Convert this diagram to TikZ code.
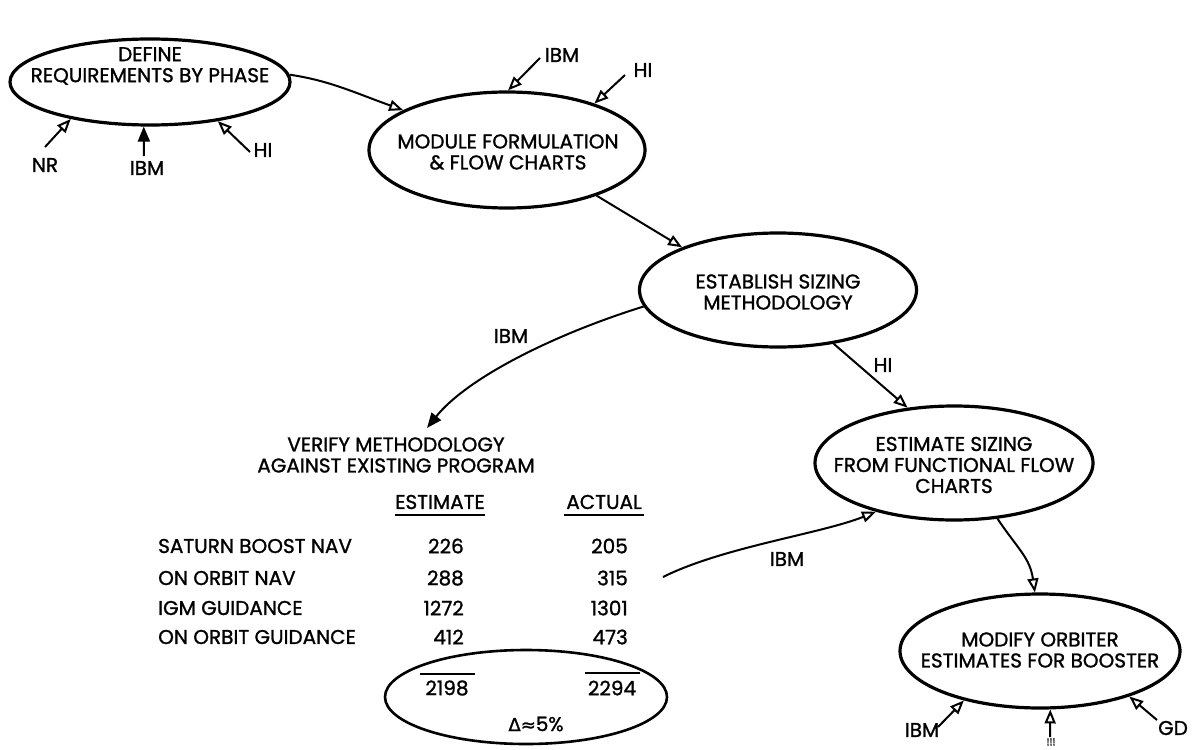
\documentclass[tikz,border=0pt]{standalone}
\usepackage{fontspec}
\setmainfont{Poppins}[BoldFont=Poppins, BoldFeatures={FakeBold=1.2}]
\newfontfamily\symf{DejaVu Sans}[BoldFont=DejaVu Sans, BoldFeatures={FakeBold=1.2}]
\usetikzlibrary{shapes.geometric,arrows.meta}
\begin{document}
\begin{tikzpicture}[x=1pt,y=-1pt,
  bub/.style={draw, line width=3.2pt, ellipse, inner sep=0pt},
  txt/.style={align=center, font=\fontsize{20}{21}\selectfont\bfseries, inner sep=0pt},
  conn/.style={line width=2pt, -{Triangle[open, length=14pt, width=11pt, line width=2pt]}},
  connf/.style={line width=2pt, -{Triangle[length=15pt, width=12pt]}},
  ]
\fill[white] (0,0) rectangle (1193,749);
\useasboundingbox (0,0) rectangle (1193,749);

% bubbles
\node[bub, minimum width=280pt, minimum height=86pt] (def) at (150,82) {};
\node[txt] (deft) at (150,66) {DEFINE\\REQUIREMENTS BY PHASE};
\node[bub, minimum width=276pt, minimum height=116pt] (mod) at (507,150) {};
\node[txt] (modt) at (508,152) {MODULE FORMULATION\\\& FLOW CHARTS};
\node[bub, minimum width=277pt, minimum height=114pt] (est) at (778,290) {};
\node[txt] (estt) at (778,292) {ESTABLISH SIZING\\METHODOLOGY};
\node[bub, minimum width=278pt, minimum height=114pt] (esz) at (954,463) {};
\node[txt] (eszt) at (954,465) {ESTIMATE SIZING\\FROM FUNCTIONAL FLOW\\CHARTS};
\node[bub, minimum width=280pt, minimum height=114pt] (mdf) at (1040,651) {};
\node[txt] (mdft) at (1040,650) {MODIFY ORBITER\\ESTIMATES FOR BOOSTER};

% verify block
\node[txt] (ver) at (396,455) {VERIFY METHODOLOGY\\AGAINST EXISTING PROGRAM};
\node[txt] (hest) at (440,502) {ESTIMATE};
\node[txt] (hact) at (604,502) {ACTUAL};
\draw[line width=1.8pt] ([yshift=-6pt]hest.south west) -- ([yshift=-6pt]hest.south east);
\draw[line width=1.8pt] ([yshift=-6pt,xshift=-2pt]hact.south west) -- ([yshift=-6pt,xshift=2pt]hact.south east);

\node[txt, anchor=west] (r1) at (158,546) {SATURN BOOST NAV};
\node[txt, anchor=west] (r2) at (158,578) {ON ORBIT NAV};
\node[txt, anchor=west] (r3) at (158,608) {IGM GUIDANCE};
\node[txt, anchor=west] (r4) at (158,637) {ON ORBIT GUIDANCE};
\node[txt, anchor=east] (e1) at (464,546) {226};
\node[txt, anchor=east] (e2) at (464,578) {288};
\node[txt, anchor=east] (e3) at (464,608) {1272};
\node[txt, anchor=east] (e4) at (464,637) {412};
\node[txt, anchor=east] (a1) at (628,546) {205};
\node[txt, anchor=east] (a2) at (628,578) {315};
\node[txt, anchor=east] (a3) at (628,608) {1301};
\node[txt, anchor=east] (a4) at (628,637) {473};

\node[bub, line width=2.6pt, minimum width=282pt, minimum height=94pt] (tot) at (526,697) {};
\node[txt] (te) at (447,688) {2198};
\node[txt] (ta) at (612,688) {2294};
\draw[line width=1.8pt] (420,674) -- (475,674);
\draw[line width=1.8pt] (585,673) -- (640,673);
\node[txt] (dlt) at (536,724) {{\symf\fontsize{18}{18}\selectfont\bfseries Δ≈}5\%};

% main connectors
\draw[conn] (def.3) .. controls +(40,6) and +(-50,-18) .. (mod.159);
\draw[conn] (mod.-27) -- (est.156);
\coordinate (vtip) at (427,428);
\draw[connf] (est.187) .. controls +(-90,28) and +(40,-50) .. (vtip);
\node[txt] (lbm1) at (511,336) {IBM};
\draw[conn] (est.-44) -- (esz.130);
\node[txt] (lhi1) at (883,365) {HI};
\coordinate (tabout) at (663,577);
\draw[conn] (tabout) .. controls +(60,-30) and +(-55,22) .. (esz.-148);
\node[txt] (lbm2) at (787,559) {IBM};
\draw[conn] (esz.-52) .. controls +(20,30) and +(-5,-35) .. (mdf.95);

% input arrows DEFINE
\coordinate (nrs) at (45,147);
\draw[conn] (nrs) -- (def.-155);
\node[txt] (lnr) at (45,165) {NR};
\coordinate (ib1s) at (144,156);
\draw[connf] (ib1s) -- (def.-98);
\node[txt] (lib1) at (147,168) {IBM};
\coordinate (hi1s) at (250,152);
\draw[conn] (hi1s) -- (def.-30);
\node[txt] (lhi2) at (263,150) {HI};

% input arrows MODULE
\coordinate (ib2s) at (540,58);
\draw[conn] (ib2s) -- (mod.89);
\node[txt] (lib2) at (562,55) {IBM};
\coordinate (hi2s) at (625,75);
\draw[conn] (hi2s) -- (mod.28);
\node[txt] (lhi3) at (643,70) {HI};

% input arrows MODIFY
\coordinate (ib3s) at (938,727);
\draw[conn] (ib3s) -- (mdf.-147);
\node[txt] (lib3) at (922,730) {IBM};
\coordinate (mids) at (1050,737);
\draw[conn] (mids) -- (mdf.-80);
\node[txt, font=\fontsize{10}{10}\selectfont\bfseries] (lmid) at (1051,742) {!!!};
\coordinate (gds) at (1157,720);
\draw[conn] (gds) -- (mdf.-27);
\node[txt] (lgd) at (1173,728) {GD};
\end{tikzpicture}
\end{document}
